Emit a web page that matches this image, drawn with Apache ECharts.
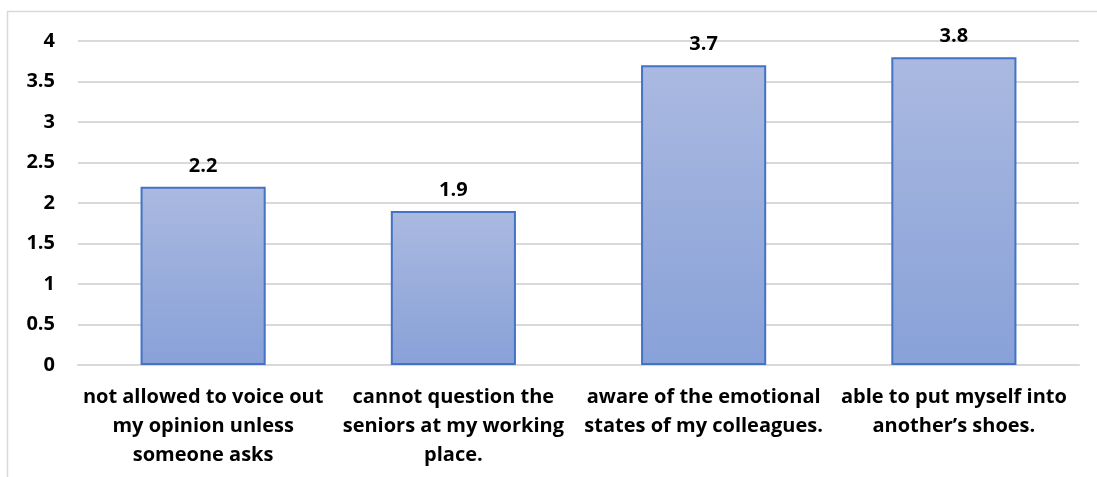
<!DOCTYPE html>
<html>
<head>
<meta charset="utf-8">
<script src="https://cdn.jsdelivr.net/npm/echarts@6/dist/echarts.min.js"></script>
<style>
	html, body { margin: 0; padding: 0; background: #fff; }
</style>
</head>
<body>
<div id="chart1" style="width: 1097px; height: 477px"></div>

<script>
	// values
	const categories = [
		'not allowed to voice out\nmy opinion unless\nsomeone asks',
		'cannot question the\nseniors at my working\nplace.',
		'aware of the emotional\nstates of my colleagues.',
		'able to put myself into\nanother\u2019s shoes.'
	];
	const scores = [2.2, 1.9, 3.7, 3.8];

	var chart1 = echarts.init(document.getElementById('chart1'));
	const font = '"Open Sans", "Noto Sans", sans-serif';

	var chart1_option = {
		animation: false,
		graphic: [{
			type: 'rect',
			shape: { x: 7.5, y: 11.5, width: 1200, height: 500 },
			style: { fill: 'none', stroke: '#d9d9d9', lineWidth: 1.5 },
			silent: true
		}],
		grid: { left: 78, right: 18, top: 41, bottom: 112 },
		xAxis: [{
			type: 'category',
			data: categories,
			axisTick: { show: false },
			axisLine: { lineStyle: { color: '#d9d9d9', width: 2 } },
			axisLabel: {
				color: '#000', fontFamily: font, fontWeight: 'bold',
				fontSize: 20, lineHeight: 29, margin: 18, interval: 0
			}
		}],
		yAxis: [{
			type: 'value',
			min: 0, max: 4, interval: 0.5,
			axisLine: { show: false },
			axisTick: { show: false },
			splitLine: { lineStyle: { color: '#d9d9d9', width: 2 } },
			axisLabel: {
				color: '#000', fontFamily: font, fontWeight: 'bold',
				fontSize: 20, margin: 23
			}
		}],
		series: [{
			type: 'bar',
			data: scores,
			barWidth: '50%',
			itemStyle: {
				color: new echarts.graphic.LinearGradient(0, 0, 0, 1, [
					{ offset: 0, color: '#aab9e0' },
					{ offset: 1, color: '#88a1d8' }
				]),
				borderColor: '#4472c4',
				borderWidth: 2
			},
			label: {
				show: true, position: 'top', distance: 11,
				color: '#000', fontFamily: font, fontWeight: 'bold', fontSize: 20
			}
		}]
	};

	chart1.setOption(chart1_option);
</script>
</body>
</html>
